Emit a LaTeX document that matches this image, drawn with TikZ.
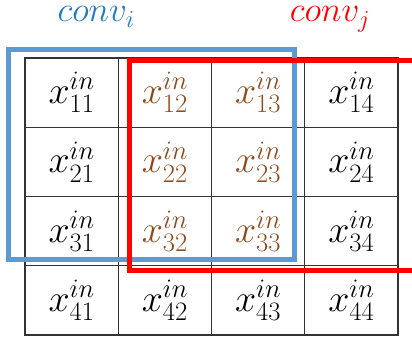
\RequirePackage{fix-cm}
\documentclass[tikz,border=0pt]{standalone}
\usepackage{xcolor}
\definecolor{boxblue}{HTML}{5B9BD5}
\definecolor{txtblue}{HTML}{1F7AC8}
\definecolor{brownx}{HTML}{8F4A1A}
\definecolor{gridc}{HTML}{333333}
\begin{document}
\begin{tikzpicture}[x=1pt,y=-1pt,
  cell/.style={draw=gridc,line width=1.3pt,minimum width=93.25pt,minimum height=69.25pt,inner sep=0pt,
    font=\fontsize{38}{44}\selectfont},
  lbl/.style={font=\fontsize{35}{40}\selectfont,inner sep=0pt,anchor=base}]
\useasboundingbox (0,0) rectangle (412,337);
\clip (0,0) rectangle (412,337);
\foreach \r in {1,...,4}{
  \foreach \c in {1,...,4}{
    \pgfmathsetmacro{\cx}{25+93.25*(\c-0.5)}
    \pgfmathsetmacro{\cy}{58+69.25*(\r-0.5)}
    \pgfmathtruncatemacro{\isbrown}{(\r<4)&&(\c>1)&&(\c<4)}
    \ifnum\isbrown=1
      \node[cell,text=brownx] (c\r\c) at (\cx,\cy) {$x_{\r\c}^{in}$};
    \else
      \node[cell] (c\r\c) at (\cx,\cy) {$x_{\r\c}^{in}$};
    \fi
  }
}
\draw[boxblue,line width=5pt] (8.5,50) rectangle (294.5,259.5);
\draw[red,line width=5pt] (129.5,61) rectangle (414,270);
\node[lbl,text=txtblue] (convi) at (96,22) {$conv_i$};
\node[lbl,text=red] (convj) at (330,22) {$conv_j$};
\end{tikzpicture}
\end{document}
